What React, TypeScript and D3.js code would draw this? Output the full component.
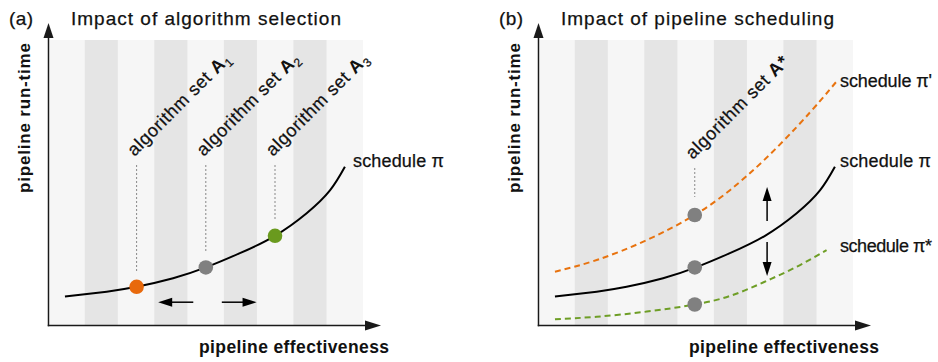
import React from "react";
import * as d3 from "d3";

const W = 938;
const H = 362;

// x in "stripe units" (0..9), y in relative run-time units (0..10)
const xDomain: [number, number] = [0, 9];
const yDomain: [number, number] = [0, 10];
const darkStripes: [number, number][] = [
  [1, 1.95],
  [3, 3.95],
  [5, 5.95],
  [7, 7.95],
];

// schedule π (solid black)
const schedulePi: [number, number][] = [
  [0.43, 1.0],
  [1.63, 1.17],
  [2.49, 1.34],
  [3.54, 1.64],
  [4.48, 2.02],
  [5.46, 2.52],
  [6.47, 3.13],
  [7.38, 3.92],
  [8.05, 4.72],
  [8.48, 5.55],
];
// schedule π' (orange dashed)
const schedulePiPrime: [number, number][] = [
  [0.43, 1.87],
  [1.63, 2.28],
  [3.07, 2.98],
  [4.45, 3.86],
  [5.47, 4.74],
  [6.43, 5.77],
  [7.39, 6.96],
  [8.08, 7.9],
  [8.51, 8.52],
];
// schedule π* (green dashed)
const schedulePiStar: [number, number][] = [
  [0.43, 0.2],
  [1.63, 0.29],
  [3.07, 0.47],
  [4.45, 0.72],
  [5.47, 1.02],
  [6.43, 1.5],
  [7.39, 2.05],
  [8.24, 2.63],
];

// algorithm sets in panel (a)
const setLabels = ["1", "2", "3"];
const setX = [2.49, 4.48, 6.47];
const setY = [1.34, 2.02, 3.13];
const setColors = ["#e8690c", "#808080", "#6a9a1e"];

// algorithm set A* in panel (b)
const starX = 4.45;
const starY = [3.86, 2.02, 0.72];

const ORANGE = "#e8730f";
const GREEN = "#6e9e26";
const FONT = "'Liberation Sans', Arial, Helvetica, sans-serif";
const TXT = { fill: "#111", stroke: "#111", strokeWidth: 0.25 };

function Arrow({ x1, y1, x2, y2, len = 14, hw = 4.5, sw = 1.5, color = "#000" }: any) {
  const dx = x2 - x1;
  const dy = y2 - y1;
  const d = Math.hypot(dx, dy);
  const ux = dx / d;
  const uy = dy / d;
  const bx = x2 - ux * len;
  const by = y2 - uy * len;
  const nx = -uy;
  const ny = ux;
  return (
    <g>
      <line x1={x1} y1={y1} x2={bx + ux} y2={by + uy} stroke={color} strokeWidth={sw} />
      <path
        d={`M${x2},${y2}L${bx + nx * hw},${by + ny * hw}L${bx - nx * hw},${by - ny * hw}Z`}
        fill={color}
      />
    </g>
  );
}

function Panel({ ox, tag, title, children }: any) {
  const x = d3.scaleLinear().domain(xDomain).range([ox + 50, ox + 363]);
  const y = d3.scaleLinear().domain(yDomain).range([325, 40]);
  const axX = ox + 48.5;
  const axY = 325.5;
  return (
    <g>
      <rect x={x(0)} y={y(10)} width={x(9) - x(0)} height={y(0) - y(10)} fill="#f6f6f6" />
      {darkStripes.map(([a, b], i) => (
        <rect key={i} x={x(a)} y={y(10)} width={x(b) - x(a)} height={y(0) - y(10)} fill="#e5e5e5" />
      ))}
      <Arrow x1={axX} y1={axY + 0.75} x2={axX} y2={23} len={15} hw={5} sw={1.5} color="#1a1a1a" />
      <Arrow x1={axX - 0.75} y1={axY} x2={ox + 381} y2={axY} len={16} hw={5} sw={1.5} color="#1a1a1a" />
      <text x={ox + 9} y={25} fontSize={19} textLength={24} lengthAdjust="spacing" {...TXT}>{tag}</text>
      <text x={ox + 71} y={25} fontSize={19} textLength={ox ? 273 : 270} lengthAdjust="spacing" {...TXT}>{title}</text>
      <text
        transform={`translate(${ox + 30},118) rotate(-90)`}
        textAnchor="middle"
        fontSize={17}
        fontWeight="bold"
        textLength={150}
        lengthAdjust="spacing"
        fill="#111"
      >
        pipeline run-time
      </text>
      <text
        x={ox + 294}
        y={353}
        textAnchor="middle"
        fontSize={17.5}
        fontWeight="bold"
        textLength={190}
        lengthAdjust="spacing"
        fill="#111"
      >
        pipeline effectiveness
      </text>
      {children(x, y)}
    </g>
  );
}

export default function App() {
  const mkLine = (x: any, y: any) =>
    d3
      .line<[number, number]>()
      .x((d) => x(d[0]))
      .y((d) => y(d[1]))
      .curve(d3.curveNatural);

  return (
    <svg width={W} height={H} style={{ position: "absolute", left: 0, top: 0, fontFamily: FONT }}>
      <rect width={W} height={H} fill="#fff" />
      <Panel ox={0} tag="(a)" title="Impact of algorithm selection">
        {(x: any, y: any) => {
          const line = mkLine(x, y);
          return (
            <g>
              <path d={line(schedulePi) || ""} fill="none" stroke="#000" strokeWidth={2} />
              {setX.map((sx, i) => (
                <g key={i}>
                  <line
                    x1={x(sx)}
                    x2={x(sx)}
                    y1={165}
                    y2={y(setY[i]) - 15}
                    stroke="#888"
                    strokeWidth={1}
                    strokeDasharray="2,2"
                  />
                  <text
                    transform={`translate(${x(sx) - 2},157) rotate(-45)`}
                    fontSize={18}
                    letterSpacing={0.6}
                    {...TXT}
                  >
                    algorithm set <tspan fontWeight="bold" strokeWidth={0}>A</tspan>
                    <tspan fontSize={12} dy={4}>{setLabels[i]}</tspan>
                  </text>
                  <circle cx={x(sx)} cy={y(setY[i])} r={7.3} fill={setColors[i]} />
                </g>
              ))}
              <Arrow x1={x(4.12)} y1={y(0.8)} x2={x(3.11)} y2={y(0.8)} len={14} hw={4.5} sw={1.5} />
              <Arrow x1={x(4.94)} y1={y(0.8)} x2={x(5.94)} y2={y(0.8)} len={14} hw={4.5} sw={1.5} />
              <text x={353} y={167} fontSize={18} textLength={91} lengthAdjust="spacing" {...TXT}>
                schedule π
              </text>
            </g>
          );
        }}
      </Panel>
      <Panel ox={490} tag="(b)" title="Impact of pipeline scheduling">
        {(x: any, y: any) => {
          const line = mkLine(x, y);
          return (
            <g>
              <path
                d={line(schedulePiPrime) || ""}
                fill="none"
                stroke={ORANGE}
                strokeWidth={2}
                strokeDasharray="6,4"
              />
              <path
                d={line(schedulePiStar) || ""}
                fill="none"
                stroke={GREEN}
                strokeWidth={2}
                strokeDasharray="6,4"
              />
              <path d={line(schedulePi) || ""} fill="none" stroke="#000" strokeWidth={2} />
              <line
                x1={x(starX)}
                x2={x(starX)}
                y1={168}
                y2={y(starY[0]) - 18}
                stroke="#888"
                strokeWidth={1}
                strokeDasharray="2,2"
              />
              <text
                transform={`translate(${x(starX) - 2},160) rotate(-45)`}
                fontSize={18}
                letterSpacing={0.6}
                {...TXT}
              >
                algorithm set <tspan fontWeight="bold" strokeWidth={0}>A*</tspan>
              </text>
              {starY.map((sy, i) => (
                <circle key={i} cx={x(starX)} cy={y(sy)} r={7.3} fill="#808080" />
              ))}
              <Arrow x1={x(6.53)} y1={y(3.65)} x2={x(6.53)} y2={y(4.84)} len={14} hw={4.5} sw={1.5} />
              <Arrow x1={x(6.53)} y1={y(2.91)} x2={x(6.53)} y2={y(1.72)} len={14} hw={4.5} sw={1.5} />
              <text x={840} y={87} fontSize={18} textLength={92} lengthAdjust="spacing" {...TXT}>
                schedule π'
              </text>
              <text x={840} y={167} fontSize={18} textLength={91} lengthAdjust="spacing" {...TXT}>
                schedule π
              </text>
              <text x={840} y={252} fontSize={18} textLength={92} lengthAdjust="spacing" {...TXT}>
                schedule π*
              </text>
            </g>
          );
        }}
      </Panel>
    </svg>
  );
}
